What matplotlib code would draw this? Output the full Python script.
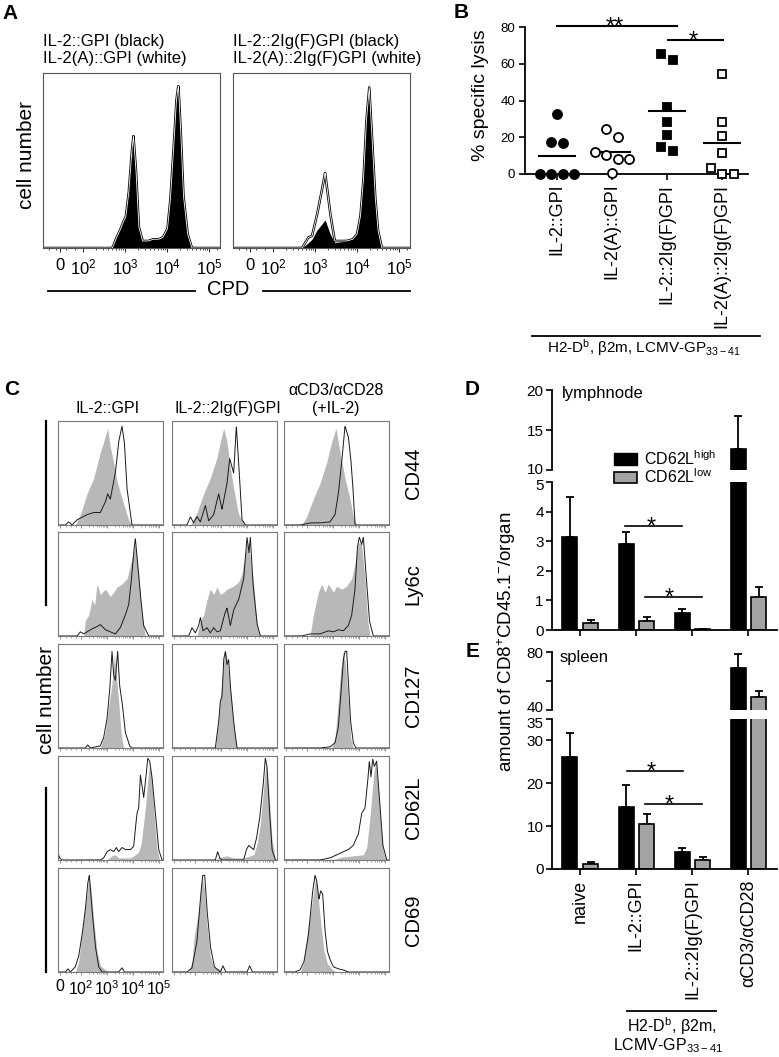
import numpy as np
import matplotlib
matplotlib.use('Agg')
import matplotlib.pyplot as plt
from matplotlib.lines import Line2D
from matplotlib.patches import Rectangle
from matplotlib.transforms import ScaledTranslation

plt.rcParams['font.family'] = ['Liberation Sans', 'DejaVu Sans']
plt.rcParams['mathtext.default'] = 'regular'
plt.rcParams['axes.linewidth'] = 0.8

# ---------------- DATA ----------------
# Panel A: CPD dilution histograms (x in log10 decade units, y relative count)
A_tick_pos = [1.45, 2, 3, 4, 5]
A_tick_lab = ['0', '10$^2$', '10$^3$', '10$^4$', '10$^5$']
A_title_left = ['IL-2::GPI (black)', 'IL-2(A)::GPI (white)']
A_title_right = ['IL-2::2Ig(F)GPI (black)', 'IL-2(A)::2Ig(F)GPI (white)']
A_gpi_black_u = [2.70, 2.78, 2.88, 2.96, 3.01, 3.09, 3.15, 3.20, 3.25, 3.32, 3.41, 3.55, 3.67, 3.80, 3.90, 4.01, 4.08, 4.16, 4.22, 4.27, 4.32, 4.39, 4.49, 4.59]
A_gpi_black_y = [0.0, 0.05, 0.1, 0.15, 0.17, 0.3, 0.5, 0.58, 0.42, 0.12, 0.04, 0.04, 0.06, 0.05, 0.06, 0.12, 0.3, 0.6, 0.85, 0.94, 0.7, 0.28, 0.07, 0.0]
A_gpiA_white_u = [2.70, 2.78, 2.88, 2.96, 3.02, 3.09, 3.16, 3.20, 3.26, 3.33, 3.42, 3.55, 3.67, 3.80, 3.90, 4.01, 4.08, 4.16, 4.22, 4.27, 4.32, 4.39, 4.49, 4.59]
A_gpiA_white_y = [0.0, 0.05, 0.1, 0.15, 0.18, 0.32, 0.55, 0.64, 0.45, 0.12, 0.04, 0.04, 0.05, 0.05, 0.06, 0.11, 0.28, 0.58, 0.84, 0.93, 0.7, 0.3, 0.08, 0.0]
A_2ig_black_u = [2.69, 2.84, 2.93, 3.04, 3.14, 3.24, 3.36, 3.47, 3.75, 3.90, 4.00, 4.08, 4.15, 4.22, 4.29, 4.37, 4.43, 4.50, 4.59]
A_2ig_black_y = [0.0, 0.03, 0.05, 0.1, 0.13, 0.16, 0.08, 0.03, 0.04, 0.06, 0.09, 0.2, 0.4, 0.75, 0.94, 0.6, 0.3, 0.1, 0.0]
A_2igA_white_u = [2.69, 2.84, 2.93, 3.04, 3.14, 3.24, 3.36, 3.47, 3.75, 3.90, 4.00, 4.08, 4.15, 4.22, 4.29, 4.37, 4.43, 4.50, 4.59]
A_2igA_white_y = [0.0, 0.06, 0.07, 0.18, 0.3, 0.43, 0.2, 0.04, 0.04, 0.05, 0.08, 0.18, 0.38, 0.72, 0.92, 0.58, 0.3, 0.1, 0.0]

# Panel B: % specific lysis
B_groups = ['IL-2::GPI', 'IL-2(A)::GPI', 'IL-2::2Ig(F)GPI', 'IL-2(A)::2Ig(F)GPI']
lysis_il2_gpi = [32.7, 17.6, 16.7, 0, 0, 0, 0]
lysis_il2A_gpi = [24.4, 20.0, 12.2, 10.4, 8.0, 8.0, 0.4]
lysis_il2_2ig = [65.5, 62.2, 36.4, 28.5, 21.3, 14.9, 12.7]
lysis_il2A_2ig = [54.5, 28.5, 20.7, 11.6, 3.1, 0, 0]
B_yticks = [0, 20, 40, 60, 80]

# Panel C: phenotype histograms (x in display channels 0-315, y relative count)
C_cols = ['IL-2::GPI', 'IL-2::2Ig(F)GPI', 'αCD3/αCD28\n(+IL-2)']
C_rows = ['CD44', 'Ly6c', 'CD127', 'CD62L', 'CD69']
C_tick_ch = [6, 69, 147, 225, 303]
C_tick_lab = ['0', '10$^2$', '10$^3$', '10$^4$', '10$^5$']

CD44_gray_ch = [[52, 67, 87, 107, 127, 137, 149, 157, 167, 177, 197, 212, 222],
                [55, 75, 95, 115, 135, 145, 155, 165, 175, 185, 200, 220],
                [53, 68, 88, 108, 128, 143, 156, 168, 183, 198, 208, 218]]
CD44_gray_y = [[0, 0.1, 0.3, 0.45, 0.7, 0.8, 0.93, 0.75, 0.6, 0.42, 0.2, 0.05, 0],
               [0, 0.12, 0.3, 0.45, 0.65, 0.8, 0.93, 0.8, 0.55, 0.35, 0.1, 0],
               [0, 0.08, 0.25, 0.4, 0.6, 0.8, 0.93, 0.7, 0.45, 0.25, 0.08, 0]]
CD44_line_ch = [[22, 32, 42, 57, 87, 107, 127, 142, 149, 157, 172, 182, 192, 199, 207, 222],
                [45, 55, 65, 75, 85, 100, 110, 125, 140, 150, 165, 173, 185, 193, 200, 210, 220],
                [48, 78, 108, 138, 153, 163, 173, 183, 193, 200, 206, 213]]
CD44_line_y = [[0, 0.03, 0, 0.05, 0.1, 0.12, 0.12, 0.22, 0.3, 0.25, 0.5, 0.8, 0.95, 0.8, 0.35, 0],
               [0, 0.08, 0.02, 0.08, 0.03, 0.19, 0.04, 0.1, 0.3, 0.15, 0.4, 0.64, 0.5, 0.95, 0.6, 0.05, 0],
               [0, 0.02, 0.02, 0.03, 0.1, 0.3, 0.6, 0.95, 0.85, 0.65, 0.4, 0]]

Ly6c_gray_ch = [[77, 82, 92, 102, 110, 117, 127, 142, 157, 167, 177, 192, 207, 222, 232, 242, 252, 262],
                [75, 85, 95, 105, 115, 125, 135, 145, 155, 165, 185, 200, 210, 220, 227, 235, 245, 255, 263],
                [78, 88, 103, 113, 123, 133, 148, 158, 173, 188, 203, 213, 223, 233, 243, 251, 258]]
Ly6c_gray_y = [[0, 0.15, 0.2, 0.35, 0.3, 0.5, 0.4, 0.45, 0.38, 0.42, 0.47, 0.5, 0.55, 0.75, 0.88, 0.6, 0.2, 0],
               [0, 0.15, 0.2, 0.35, 0.45, 0.4, 0.47, 0.4, 0.42, 0.45, 0.48, 0.52, 0.6, 0.8, 0.9, 0.75, 0.5, 0.12, 0],
               [0, 0.2, 0.42, 0.5, 0.42, 0.5, 0.42, 0.48, 0.45, 0.48, 0.55, 0.7, 0.9, 0.88, 0.55, 0.15, 0]]
Ly6c_line_ch = [[57, 67, 77, 97, 117, 127, 142, 157, 172, 187, 202, 212, 219, 227, 232, 239, 247, 257, 272],
                [50, 60, 70, 80, 85, 93, 105, 115, 125, 135, 145, 157, 165, 175, 185, 200, 215, 225, 231, 235, 243, 255, 265],
                [53, 78, 108, 133, 148, 163, 178, 193, 203, 213, 220, 226, 233, 238, 246, 256, 268]]
Ly6c_line_y = [[0, 0.04, 0.02, 0.06, 0.09, 0.11, 0.06, 0.04, 0.02, 0.08, 0.2, 0.3, 0.5, 0.8, 0.94, 0.7, 0.4, 0.1, 0],
               [0, 0.08, 0.03, 0.1, 0.18, 0.05, 0.08, 0.03, 0.08, 0.04, 0.05, 0.2, 0.27, 0.1, 0.25, 0.35, 0.55, 0.95, 0.8, 0.95, 0.5, 0.12, 0],
               [0, 0.02, 0.02, 0.05, 0.04, 0.06, 0.05, 0.1, 0.2, 0.45, 0.85, 0.95, 0.88, 0.95, 0.6, 0.15, 0]]

CD127_gray_ch = [[127, 142, 152, 162, 169, 175, 182, 189, 197],
                 [130, 140, 150, 157, 163, 170, 177, 185, 195],
                 [143, 153, 163, 170, 178, 185, 193, 200, 208]]
CD127_gray_y = [[0, 0.15, 0.4, 0.62, 0.9, 0.7, 0.45, 0.15, 0],
                [0, 0.3, 0.65, 0.9, 0.92, 0.7, 0.5, 0.2, 0],
                [0, 0.1, 0.45, 0.75, 0.93, 0.8, 0.45, 0.1, 0]]
CD127_line_ch = [[82, 89, 97, 127, 137, 147, 155, 162, 167, 172, 179, 185, 192, 202, 215, 222],
                 [130, 140, 145, 150, 155, 160, 165, 170, 175, 185, 195],
                 [108, 138, 153, 163, 170, 178, 183, 188, 194, 200, 208, 216]]
CD127_line_y = [[0, 0.03, 0, 0.02, 0.1, 0.28, 0.55, 0.93, 0.7, 0.65, 0.93, 0.6, 0.45, 0.15, 0.02, 0],
                [0, 0.25, 0.45, 0.5, 0.85, 0.93, 0.8, 0.85, 0.6, 0.25, 0],
                [0, 0.01, 0.05, 0.2, 0.5, 0.85, 0.93, 0.93, 0.6, 0.25, 0.05, 0]]

CD62L_gray_ch = [[147, 162, 172, 182, 217, 232, 242, 249, 255, 262, 269, 275, 282, 289, 297, 305],
                 [130, 140, 150, 165, 185, 215, 245, 255, 265, 275, 282, 290, 300, 310],
                 [138, 178, 208, 238, 248, 256, 263, 270, 276, 283, 290, 298, 306]]
CD62L_gray_y = [[0, 0.04, 0.05, 0.02, 0.02, 0.05, 0.08, 0.15, 0.3, 0.5, 0.75, 0.95, 0.75, 0.4, 0.1, 0],
                [0, 0.02, 0.03, 0.04, 0.02, 0.02, 0.05, 0.15, 0.35, 0.7, 0.93, 0.7, 0.2, 0],
                [0, 0.03, 0.04, 0.05, 0.12, 0.35, 0.6, 0.85, 0.95, 0.7, 0.35, 0.08, 0]]
CD62L_line_ch = [[0, 5, 12, 127, 137, 147, 157, 167, 175, 182, 192, 202, 217, 227, 232, 237, 242, 247, 252, 257, 264, 269, 275, 282, 292, 302, 312],
                 [130, 137, 143, 150, 215, 223, 230, 237, 245, 253, 263, 273, 280, 285, 291, 300, 310],
                 [108, 138, 158, 178, 193, 208, 223, 233, 243, 251, 256, 261, 266, 271, 278, 286, 296, 308]]
CD62L_line_y = [[0.07, 0.02, 0, 0, 0.02, 0.08, 0.1, 0.08, 0.12, 0.08, 0.12, 0.1, 0.1, 0.13, 0.3, 0.45, 0.5, 0.82, 0.72, 0.6, 0.8, 0.98, 0.95, 0.8, 0.45, 0.1, 0],
                [0, 0.08, 0.02, 0, 0, 0.1, 0.14, 0.12, 0.1, 0.2, 0.4, 0.7, 0.98, 0.9, 0.55, 0.1, 0],
                [0, 0.02, 0.05, 0.08, 0.1, 0.14, 0.25, 0.45, 0.5, 0.75, 0.95, 0.8, 0.97, 0.9, 0.95, 0.6, 0.15, 0]]

CD69_gray_ch = [[52, 62, 72, 79, 85, 92, 99, 107, 117, 127, 139, 149],
                [50, 60, 67, 75, 83, 90, 97, 105, 115, 125, 140, 153],
                [48, 58, 66, 73, 81, 88, 95, 103, 111, 120, 130, 143, 156]]
CD69_gray_y = [[0, 0.1, 0.38, 0.55, 0.7, 0.9, 0.8, 0.5, 0.2, 0.06, 0.03, 0],
               [0, 0.1, 0.35, 0.5, 0.65, 0.92, 0.8, 0.45, 0.15, 0.05, 0.03, 0],
               [0, 0.08, 0.25, 0.45, 0.6, 0.75, 0.92, 0.7, 0.45, 0.2, 0.08, 0.03, 0]]
CD69_line_ch = [[22, 30, 37, 52, 62, 72, 82, 89, 94, 102, 112, 122, 132, 182, 192, 199],
                [45, 60, 75, 85, 92, 98, 105, 115, 127, 145, 153, 161, 225, 233, 241],
                [33, 48, 60, 73, 85, 93, 98, 105, 110, 116, 123, 130, 138, 148, 163, 178, 193]]
CD69_line_y = [[0, 0.03, 0, 0.05, 0.15, 0.35, 0.6, 0.85, 0.93, 0.6, 0.25, 0.05, 0, 0, 0.04, 0],
               [0, 0.04, 0.3, 0.7, 0.93, 0.93, 0.6, 0.25, 0.05, 0, 0.06, 0, 0, 0.06, 0],
               [0, 0.02, 0.1, 0.35, 0.75, 0.93, 0.88, 0.7, 0.78, 0.75, 0.4, 0.2, 0.12, 0.05, 0.03, 0.02, 0]]

# Panels D/E: CD8+CD45.1- cells per organ
DE_groups = ['naive', 'IL-2::GPI', 'IL-2::2Ig(F)GPI', 'αCD3/αCD28']
ln_high = [3.13, 2.9, 0.58, 12.6]
ln_high_err = [1.35, 0.4, 0.12, 4.1]
ln_low = [0.22, 0.32, 0.03, 1.12]
ln_low_err = [0.12, 0.12, 0.01, 0.32]
sp_high = [26.2, 14.4, 3.9, 69.2]
sp_high_err = [5.6, 5.1, 0.9, 9.4]
sp_low = [1.17, 10.6, 2.1, 49.2]
sp_low_err = [0.5, 2.2, 0.6, 4.1]

# ---------------- FIGURE ----------------
W, H = 779, 1057
fig = plt.figure(figsize=(W / 100, H / 100), dpi=100)


def axpx(x0, y0, x1, y1):
    return fig.add_axes([x0 / W, 1 - y1 / H, (x1 - x0) / W, (y1 - y0) / H])


def tpx(x, y, s, **kw):
    return fig.text(x / W, 1 - y / H, s, **kw)


def lpx(x0, y0, x1, y1, lw=1.2, color='black'):
    fig.add_artist(Line2D([x0 / W, x1 / W], [1 - y0 / H, 1 - y1 / H], lw=lw,
                          color=color, transform=fig.transFigure))


def nudge_label(ax, idx, dy_px):
    lab = ax.get_yticklabels()[idx]
    lab.set_transform(lab.get_transform() + ScaledTranslation(0, dy_px / 100, fig.dpi_scale_trans))


STAR = 17

# Panel letters
for lab, x, y in [('A', 2, 19), ('B', 454, 18), ('C', 4, 395), ('D', 465, 395), ('E', 466, 657)]:
    tpx(x, y, lab, fontsize=15, fontweight='bold', va='baseline')

# ---------- Panel A ----------
A_minor = [1.2, 1.35, 1.6, 1.8] + [np.log10(m) + d for d in (2, 3, 4) for m in range(2, 10)] + [5.2]
A_sets = [(43, A_title_left, A_gpi_black_u, A_gpi_black_y, A_gpiA_white_u, A_gpiA_white_y),
          (233, A_title_right, A_2ig_black_u, A_2ig_black_y, A_2igA_white_u, A_2igA_white_y)]
grid = np.linspace(1.0, 5.3, 900)
for x0, titles, bu, by, wu, wy in A_sets:
    ax = axpx(x0, 73, x0 + 177, 248)
    yb = np.interp(grid, bu, by)
    yw = np.interp(grid, wu, wy)
    ax.fill_between(grid, 0, yw, color='white', lw=0)
    ax.plot(grid, yw, color='black', lw=1.8)
    ax.fill_between(grid, 0, yb, color='black', lw=0)
    ax.plot(grid, yw, color='white', lw=0.6)
    ax.set_xlim(1.048, 5.26)
    ax.set_ylim(0, 1.0)
    ax.set_yticks([])
    ax.set_xticks(A_tick_pos)
    ax.set_xticklabels(A_tick_lab, fontsize=12)
    ax.set_xticks(A_minor, minor=True)
    ax.tick_params(axis='x', which='major', length=3, width=0.6, pad=4)
    ax.tick_params(axis='x', which='minor', length=1.5, width=0.5)
    for s in ax.spines.values():
        s.set_linewidth(0.8)
        s.set_color('#555555')
    tpx(x0, 45.7, titles[0], fontsize=12, va='baseline')
    tpx(x0, 63.5, titles[1], fontsize=12, va='baseline')

tpx(27, 155, 'cell number', fontsize=15, rotation=90, ha='center', va='center')
tpx(228, 295, 'CPD', fontsize=14.5, ha='center', va='baseline')
lpx(48, 291, 195, 291, lw=1.3)
lpx(263, 291, 410, 291, lw=1.3)

# ---------- Panel B ----------
axB = axpx(525, 27, 748, 174)
B_series = [lysis_il2_gpi, lysis_il2A_gpi, lysis_il2_2ig, lysis_il2A_2ig]
B_marker = ['o', 'o', 's', 's']
B_face = ['black', 'white', 'black', 'white']


def swarm_offsets(vals, ythr, dx):
    order = sorted(range(len(vals)), key=lambda i: -vals[i])
    clusters = []
    for i in order:
        if clusters and abs(vals[clusters[-1][-1]] - vals[i]) < ythr:
            clusters[-1].append(i)
        else:
            clusters.append([i])
    off = [0.0] * len(vals)
    for c in clusters:
        n = len(c)
        for k, i in enumerate(c):
            off[i] = (k - (n - 1) / 2) * dx
    return off


for gi, vals in enumerate(B_series):
    offs = swarm_offsets(vals, 5.0, 0.21)
    xs = [gi + o for o in offs]
    ms = 6.5 if B_marker[gi] == 'o' else 6.2
    axB.plot(xs, vals, ls='none', marker=B_marker[gi], ms=ms, mfc=B_face[gi], mec='black',
             mew=1.3, clip_on=False, zorder=3)
    axB.plot([gi - 0.33, gi + 0.33], [np.mean(vals)] * 2, color='black', lw=1.5, zorder=2)

axB.set_xlim(-0.58, 3.47)
axB.set_ylim(0, 80)
axB.spines['top'].set_visible(False)
axB.spines['right'].set_visible(False)
axB.spines['left'].set_linewidth(1.3)
axB.spines['bottom'].set_linewidth(1.3)
axB.set_yticks(B_yticks)
axB.set_yticklabels([str(v) for v in B_yticks], fontsize=9.5)
axB.set_xticks(range(4))
axB.set_xticklabels(B_groups, rotation=90, fontsize=13)
axB.tick_params(axis='both', length=4, width=1.2, pad=3)
axB.patch.set_alpha(0)
# significance
axB.plot([0, 2.18], [80.5, 80.5], color='black', lw=1.5, clip_on=False)
axB.text(1.05, 80.5 - 3.9, '**', ha='center', va='baseline', fontsize=STAR)
axB.plot([2.02, 3.02], [72.9, 72.9], color='black', lw=1.5, clip_on=False)
axB.text(2.47, 72.9 - 3.9, '*', ha='center', va='baseline', fontsize=STAR)
tpx(480, 95, '% specific lysis', fontsize=14, rotation=90, ha='center', va='center')
lpx(532, 336, 760, 336, lw=1.3)
tpx(644, 353, 'H2-D$^b$, β2m, LCMV-GP$_{33-41}$', fontsize=11, ha='center', va='baseline')

# ---------- Panel C ----------
C_left = [58, 172, 284]
C_top = [421, 532, 644, 756, 868]
C_minor = [int(round(69 + 78 * (np.log10(m) + d - 2))) for d in (2, 3, 4) for m in range(2, 10)] + [25, 40, 55]
C_data = [(CD44_gray_ch, CD44_gray_y, CD44_line_ch, CD44_line_y),
          (Ly6c_gray_ch, Ly6c_gray_y, Ly6c_line_ch, Ly6c_line_y),
          (CD127_gray_ch, CD127_gray_y, CD127_line_ch, CD127_line_y),
          (CD62L_gray_ch, CD62L_gray_y, CD62L_line_ch, CD62L_line_y),
          (CD69_gray_ch, CD69_gray_y, CD69_line_ch, CD69_line_y)]
chgrid = np.linspace(0, 315, 800)
for r, (gch, gy, lch, ly) in enumerate(C_data):
    for c in range(3):
        ax = axpx(C_left[c], C_top[r], C_left[c] + 105, C_top[r] + 104)
        ax.fill_between(chgrid, 0, np.interp(chgrid, gch[c], gy[c]), color='#b8b8b8', lw=0)
        ax.plot(chgrid, np.interp(chgrid, lch[c], ly[c]), color='#1a1a1a', lw=0.7)
        ax.set_xlim(0, 315)
        ax.set_ylim(0, 1.0)
        ax.set_yticks([])
        ax.set_xticks(C_tick_ch)
        ax.set_xticks(C_minor, minor=True)
        ax.tick_params(axis='x', which='major', length=2.2, width=0.5, color='#666666', pad=3)
        ax.tick_params(axis='x', which='minor', length=1.2, width=0.4, color='#666666')
        if r == 4 and c == 0:
            ax.set_xticklabels(C_tick_lab, fontsize=11.5)
        else:
            ax.set_xticklabels([])
        for s in ax.spines.values():
            s.set_linewidth(0.8)
            s.set_color('#7a7a7a')
    tpx(413, C_top[r] + 52, C_rows[r], fontsize=14.5, rotation=90, ha='center', va='center')

tpx(108, 412.7, C_cols[0], fontsize=11.5, ha='center', va='baseline')
tpx(228, 412.7, C_cols[1], fontsize=11.5, ha='center', va='baseline')
tpx(336, 395, C_cols[2].split('\n')[0], fontsize=11.5, ha='center', va='baseline')
tpx(336, 412.7, C_cols[2].split('\n')[1], fontsize=11.5, ha='center', va='baseline')
tpx(47, 700, 'cell number', fontsize=15, rotation=90, ha='center', va='center')
lpx(46, 421, 46, 605, lw=1.6)
lpx(46, 788, 46, 972, lw=1.6)

# ---------- Panels D / E ----------
xg = np.arange(4)
bw = 0.268
dx = 0.184


def draw_bars(ax, hi, hi_e, lo, lo_e):
    ax.bar(xg - dx, hi, width=bw, color='black', edgecolor='black', lw=1.2, zorder=2)
    ax.bar(xg + dx, lo, width=bw, color='#a3a3a3', edgecolor='black', lw=1.2, zorder=2)
    ax.errorbar(xg - dx, hi, yerr=[[0] * 4, hi_e], fmt='none', ecolor='black', elinewidth=1.3,
                capsize=3, capthick=1.3, zorder=1)
    ax.errorbar(xg + dx, lo, yerr=[[0] * 4, lo_e], fmt='none', ecolor='black', elinewidth=1.3,
                capsize=3, capthick=1.3, zorder=1)


def style_ax(ax, ylim, yticks, ylabels, bottom):
    ax.set_xlim(-0.505, 3.51)
    ax.set_ylim(*ylim)
    ax.spines['top'].set_visible(False)
    ax.spines['right'].set_visible(False)
    ax.spines['left'].set_linewidth(1.3)
    ax.spines['bottom'].set_linewidth(1.3)
    ax.spines['bottom'].set_visible(bottom)
    ax.set_yticks(yticks)
    ax.set_yticklabels(ylabels, fontsize=11)
    ax.tick_params(axis='y', length=4, width=1.2, pad=2)
    if bottom:
        ax.set_xticks(xg)
        ax.tick_params(axis='x', length=4, width=1.2)
    else:
        ax.set_xticks([])
    ax.patch.set_alpha(0)


axDu = axpx(552, 390, 777, 470)
draw_bars(axDu, ln_high, ln_high_err, ln_low, ln_low_err)
style_ax(axDu, (10, 20), [10, 15, 20], ['10', '15', '20'], False)
nudge_label(axDu, 0, 2)
axDl = axpx(552, 482, 777, 630)
draw_bars(axDl, ln_high, ln_high_err, ln_low, ln_low_err)
style_ax(axDl, (0, 5), [0, 1, 2, 3, 4, 5], ['0', '1', '2', '3', '4', '5'], True)
nudge_label(axDl, 5, -3)
axDl.set_xticklabels([])
axDl.plot([0.8, 1.82], [3.52, 3.52], color='black', lw=1.2)
axDl.text(1.26, 3.52 - 0.26, '*', ha='center', va='baseline', fontsize=STAR)
axDl.plot([1.16, 2.17], [1.125, 1.125], color='black', lw=1.2)
axDl.text(1.58, 1.125 - 0.26, '*', ha='center', va='baseline', fontsize=STAR)
tpx(562, 398, 'lymphnode', fontsize=12, va='baseline')

axEu = axpx(552, 652, 777, 710)
draw_bars(axEu, sp_high, sp_high_err, sp_low, sp_low_err)
style_ax(axEu, (40, 80), [40, 60, 80], ['40', '', '80'], False)
nudge_label(axEu, 0, 3)
axEl = axpx(552, 719, 777, 869)
draw_bars(axEl, sp_high, sp_high_err, sp_low, sp_low_err)
style_ax(axEl, (0, 35), [0, 10, 20, 30, 35], ['0', '10', '20', '30', '35'], True)
nudge_label(axEl, 4, -4)
axEl.set_xticklabels(DE_groups, rotation=90, fontsize=13)
axEl.plot([0.83, 1.84], [22.9, 22.9], color='black', lw=1.2)
axEl.text(1.26, 22.9 - 1.8, '*', ha='center', va='baseline', fontsize=STAR)
axEl.plot([1.16, 2.18], [15.2, 15.2], color='black', lw=1.2)
axEl.text(1.58, 15.2 - 1.8, '*', ha='center', va='baseline', fontsize=STAR)
tpx(560, 661.7, 'spleen', fontsize=12, va='baseline')

# legend
fig.add_artist(Rectangle((614 / W, 1 - 465 / H), 23 / W, 12 / H, transform=fig.transFigure,
                         fc='black', ec='black', lw=1.0))
fig.add_artist(Rectangle((614 / W, 1 - 483 / H), 23 / W, 11 / H, transform=fig.transFigure,
                         fc='#a3a3a3', ec='black', lw=1.2))
tpx(644, 465, 'CD62L$^{high}$', fontsize=11.5, va='baseline')
tpx(644, 483, 'CD62L$^{low}$', fontsize=11.5, va='baseline')

tpx(507, 642, 'amount of CD8$^{+}$CD45.1$^{-}$/organ', fontsize=13.5, rotation=90,
    ha='center', va='center')
lpx(627, 1011, 716, 1011, lw=1.3)
tpx(672, 1032, 'H2-D$^b$, β2m,', fontsize=11.5, ha='center', va='baseline')
tpx(668, 1050, 'LCMV-GP$_{33-41}$', fontsize=11.5, ha='center', va='baseline')

fig.savefig('out.png', dpi=100)
